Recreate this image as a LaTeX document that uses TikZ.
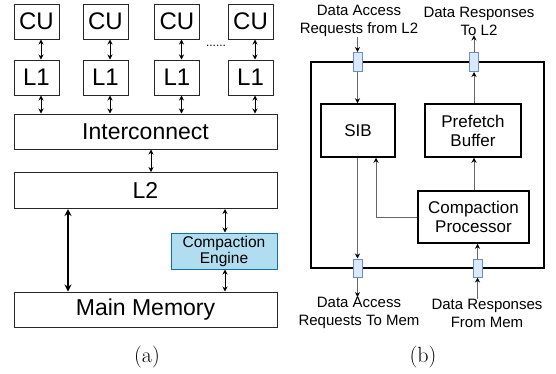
\documentclass[tikz,border=0pt]{standalone}
\usepackage{fontspec}
\setmainfont{Liberation Sans}
\usetikzlibrary{arrows.meta}
\newfontfamily\capfont{Latin Modern Roman}
\definecolor{ceFill}{HTML}{B1DDF0}
\definecolor{ceLine}{HTML}{10739E}
\definecolor{portFill}{HTML}{DAE8FC}
\definecolor{portLine}{HTML}{6C8EBF}
\definecolor{wireGray}{HTML}{666666}
\tikzset{
  lbox/.style={draw=black!85, line width=1pt, minimum width=45pt, minimum height=35pt, inner sep=0pt, font=\fontsize{24}{26}\selectfont},
  wbox/.style={draw=black!85, line width=1pt, minimum width=263pt, minimum height=35pt, inner sep=0pt, font=\fontsize{23}{26}\selectfont},
  cebox/.style={draw=ceLine, fill=ceFill, line width=1pt, minimum width=106pt, minimum height=36pt, inner sep=0pt, align=center, font=\fontsize{15.5}{18}\selectfont},
  rbox/.style={draw=black, line width=1.5pt, inner sep=0pt, align=center, font=\fontsize{17}{20}\selectfont},
  portbox/.style={draw=portLine, fill=portFill, line width=1pt, minimum width=9pt, minimum height=19pt, inner sep=0pt},
  lbl/.style={align=center, inner sep=0pt, font=\fontsize{15}{18}\selectfont},
  dbl/.style={{Stealth[length=5pt,width=5pt]}-{Stealth[length=5pt,width=5pt]}, line width=0.9pt},
  wire/.style={draw=wireGray, line width=1pt, -{Stealth[length=5pt,width=5pt,color=black]}},
  captext/.style={font=\capfont\fontsize{22}{24}\selectfont, inner sep=0pt}
}
\begin{document}
\begin{tikzpicture}[x=1pt,y=-1pt]
\useasboundingbox (0,0) rectangle (556,373);
% ---- (a) ----
\foreach \i/\x in {1/36.5,2/105.5,3/177,4/250.5}{
  \node[lbox] (cu\i) at (\x,21.5) {CU};
  \node[lbox] (lone\i) at (\x,77.5) {L1};
}
\node[wbox] (ic) at (145.5,131.5) {Interconnect};
\node[wbox, minimum height=36pt] (ltwo) at (145.5,190.5) {L2};
\node[wbox] (mm) at (145.5,309.5) {Main Memory};
\node[cebox] (ce) at (224,251) {Compaction\\[-2pt]Engine};
\node[inner sep=0pt, font=\fontsize{12}{14}\selectfont] (dots) at (216,46) {......};
\foreach \i in {1,2,3,4}{
  \draw[dbl] ([xshift=4.5pt]cu\i.south) -- ([xshift=4.5pt]lone\i.north);
  \draw[dbl] ([xshift=4.5pt]lone\i.south) -- ([xshift=4.5pt]lone\i.south |- ic.north);
}
\draw[dbl] ([xshift=5.5pt]ic.south) -- ([xshift=5.5pt]ic.south |- ltwo.north);
\draw[{Stealth[length=7pt,width=7pt]}-{Stealth[length=7pt,width=7pt]}, line width=1.4pt] (68,0 |- ltwo.south) -- (68,0 |- mm.north);
\draw[dbl] (ltwo.south -| 225,0) -- (ce.north -| 225,0);
\draw[dbl] (ce.south -| 225,0) -- (mm.north -| 225,0);
\node[captext] (capa) at (147,357) {(a)};
% ---- (b) ----
\node[draw=black, line width=2pt, minimum width=233pt, minimum height=206pt, inner sep=0pt] (outer) at (427.5,165) {};
\node[rbox, minimum width=74pt, minimum height=53pt] (sib) at (358,130.5) {SIB};
\node[rbox, minimum width=96pt, minimum height=53pt] (pb) at (473,130.5) {Prefetch\\[-1pt]Buffer};
\node[rbox, minimum width=111pt, minimum height=52pt] (cp) at (473.5,217) {Compaction\\[-1pt]Processor};
\node[portbox] (p1) at (357.5,62) {};
\node[portbox] (p2) at (474,62) {};
\node[portbox, minimum height=18pt] (p3) at (357.5,268) {};
\node[portbox, minimum height=18pt] (p4) at (477.5,268) {};
\node[lbl] (t1) at (359,21) {Data Access\\Requests from L2};
\node[lbl] (t2) at (479,21) {Data Responses\\To L2};
\node[lbl] (t3) at (359,313) {Data Access\\Requests To Mem};
\node[lbl] (t4) at (487,313) {Data Responses\\From Mem};
\draw[wire] (p1.north |- t1.south) -- (p1.north);
\draw[wire] (p1.south) -- (p1.south |- sib.north);
\draw[wire] (p1.south |- sib.south) -- (p3.north);
\draw[wire] (p3.south) -- (p3.south |- t3.north);
\draw[wire] (cp.west) -- (376,0 |- cp.west) -- (376,0 |- sib.south);
\draw[wire] (p2.south |- cp.north) -- (p2.south |- pb.south);
\draw[wire] (p2.south |- pb.north) -- (p2.south);
\draw[wire] (p2.north) -- (p2.north |- t2.south);
\draw[wire] (p4.south |- t4.north) -- (p4.south);
\draw[wire] (p4.north) -- (p4.north |- cp.south);
\node[captext] (capb) at (423,357) {(b)};
\end{tikzpicture}
\end{document}
